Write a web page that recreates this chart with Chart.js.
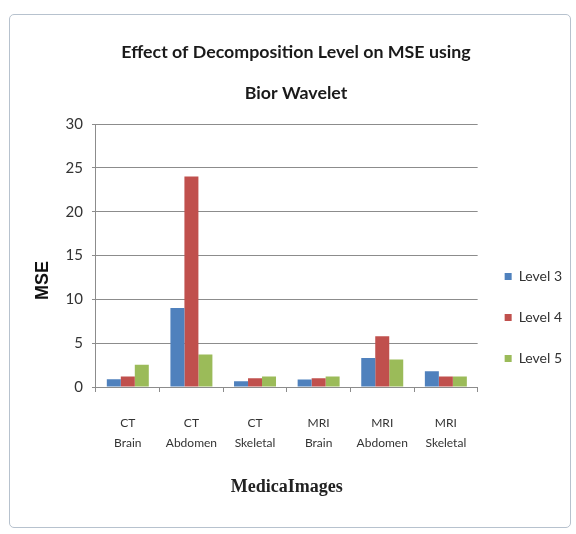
<!DOCTYPE html>
<html>
<head>
<meta charset="utf-8">
<script src="https://cdn.jsdelivr.net/npm/chart.js@4/dist/chart.umd.min.js"></script>
<style>
  html, body { margin: 0; padding: 0; background: #ffffff; }
  #wrap { position: relative; width: 576px; height: 534px; }
  #frame { position: absolute; left: 9px; top: 14px; width: 562px; height: 514px;
           border: 1px solid #b7c2ce; border-radius: 5px; box-sizing: border-box; }
  canvas { position: absolute; left: 0; top: 0; }
</style>
</head>
<body>
<div id="wrap">
  <div id="frame"></div>
  <canvas id="c" width="576" height="534"></canvas>
</div>
<script>
const categories = [['CT','Brain'], ['CT','Abdomen'], ['CT','Skeletal'], ['MRI','Brain'], ['MRI','Abdomen'], ['MRI','Skeletal']];
const level3 = [0.88, 9.0, 0.65, 0.85, 3.3, 1.8];
const level4 = [1.2, 24.0, 1.0, 1.0, 5.8, 1.2];
const level5 = [2.55, 3.7, 1.2, 1.2, 3.15, 1.2];
const seriesNames = ['Level 3', 'Level 4', 'Level 5'];
const yTicks = [0, 5, 10, 15, 20, 25, 30];

const tickFont = 'Lato, "DejaVu Sans", sans-serif';

new Chart(document.getElementById('c'), {
  type: 'bar',
  data: {
    labels: categories,
    datasets: [
      { label: seriesNames[0], data: level3, backgroundColor: '#4f81bd' },
      { label: seriesNames[1], data: level4, backgroundColor: '#c0504d' },
      { label: seriesNames[2], data: level5, backgroundColor: '#9bbb59' }
    ]
  },
  options: {
    responsive: false,
    animation: false,
    devicePixelRatio: 1,
    layout: { padding: { left: 20, right: 4, top: 0, bottom: 36 } },
    datasets: { bar: { categoryPercentage: 0.66, barPercentage: 1.0 } },
    plugins: {
      tooltip: { enabled: false },
      title: {
        display: true,
        text: ['Effect of Decomposition Level on MSE using', 'Bior Wavelet'],
        color: '#1a1a1a',
        font: { family: tickFont, size: 17.8, weight: 'bold', lineHeight: '41px' },
        padding: { top: 32, bottom: 10 }
      },
      legend: {
        display: true,
        position: 'right',
        align: 'center',
        title: { display: true, text: '', font: { size: 10, lineHeight: 1 }, padding: { top: 127, bottom: 0 } },
        labels: {
          boxWidth: 7, boxHeight: 7, padding: 27,
          color: '#333333',
          font: { family: tickFont, size: 14 }
        }
      }
    },
    scales: {
      x: {
        grid: { display: true, drawOnChartArea: false, drawTicks: true, tickLength: 5, color: '#8c8c8c' },
        border: { display: true, color: '#8c8c8c' },
        ticks: { color: '#333333', padding: 22, font: { family: tickFont, size: 12, lineHeight: 1.6 } },
        title: {
          display: true, text: 'MedicaImages', color: '#222222',
          font: { family: '"Liberation Serif", serif', size: 18, weight: 'bold', lineHeight: 1.2 },
          padding: { top: 2, bottom: 0 }
        }
      },
      y: {
        min: 0, max: 30,
        afterBuildTicks: (axis) => { axis.ticks = yTicks.map(v => ({ value: v })); },
        grid: { color: '#8c8c8c', tickLength: 4, drawTicks: true },
        border: { display: true, color: '#8c8c8c' },
        ticks: { color: '#333333', padding: 9, font: { family: tickFont, size: 15 } },
        title: {
          display: true, text: 'MSE          ', color: '#111111',
          font: { family: '"Liberation Sans", Arial, sans-serif', size: 18, weight: 'bold', lineHeight: 1.2 },
          padding: { top: 12, bottom: 3 }
        }
      }
    }
  }
});
</script>
</body>
</html>
